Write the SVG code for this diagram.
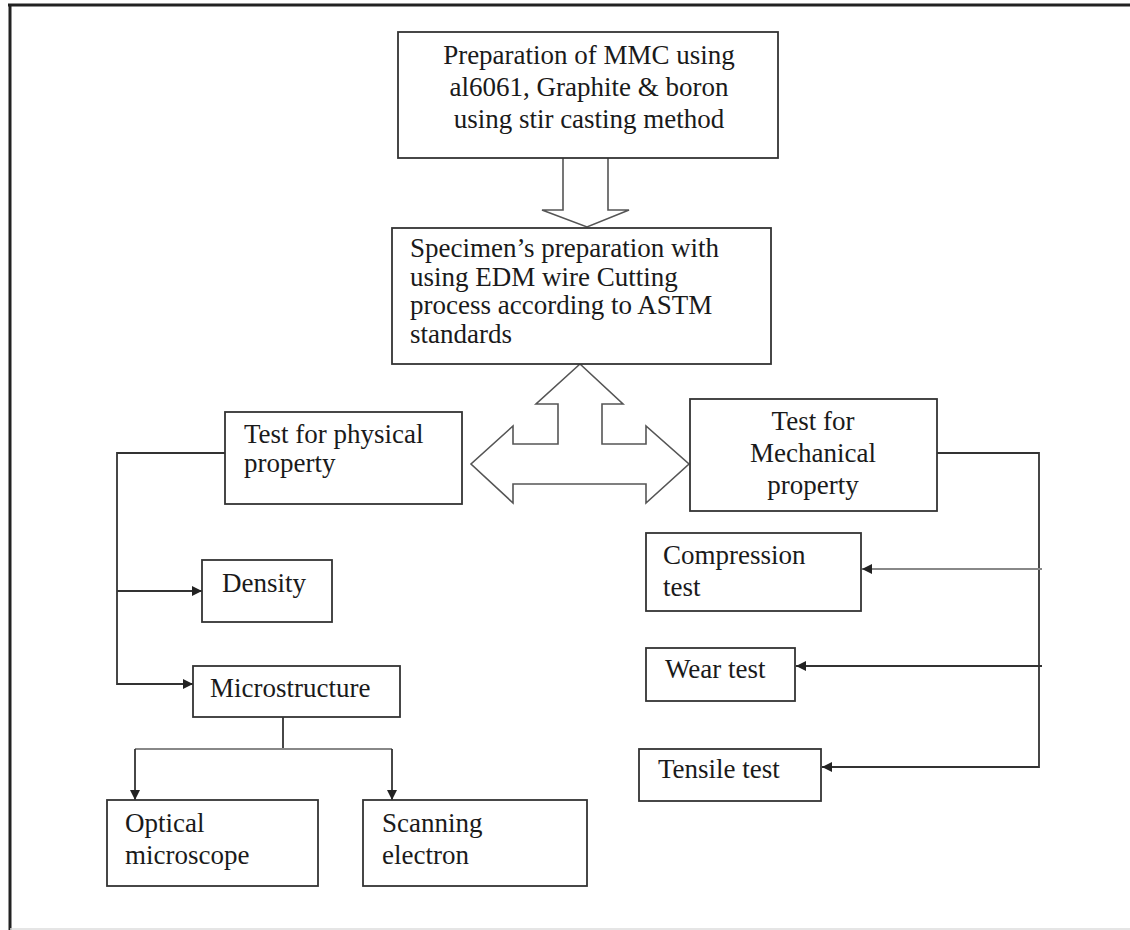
<svg xmlns="http://www.w3.org/2000/svg" width="1130" height="930" viewBox="0 0 1130 930">
<defs>
<style>
.box{fill:#fff;stroke:#333;stroke-width:1.8}
.t{font-family:"Liberation Serif","Times New Roman",serif;font-size:27px;fill:#1a1a1a}
.c{text-anchor:middle}
.ln{fill:none;stroke:#333;stroke-width:1.8}
.lg{fill:none;stroke:#888;stroke-width:1.8}
.big{fill:#fff;stroke:#555;stroke-width:1.6;stroke-linejoin:miter}
</style>
<marker id="ah" viewBox="0 0 10 10" refX="10" refY="5" markerWidth="11" markerHeight="10" markerUnits="userSpaceOnUse" orient="auto">
<path d="M0,0 L10,5 L0,10 z" fill="#222"/>
</marker>
</defs>
<rect width="1130" height="930" fill="#fff"/>
<g id="frame">
<line x1="8" y1="5" x2="1130" y2="5" stroke="#222" stroke-width="3"/>
<line x1="10" y1="4" x2="10" y2="930" stroke="#222" stroke-width="3"/>
<line x1="10" y1="929" x2="1130" y2="929" stroke="#ddd" stroke-width="1.5"/>
</g>
<g id="connectors">
<path class="big" d="M563,158 L563,210 L542,210 L587,227 L629,210 L608,210 L608,158"/>
<path class="big" d="M580,364 L623,404 L602,404 L602,444 L646,444 L646,426 L689,464 L646,503 L646,484 L513,484 L513,503 L471,464 L513,426 L513,444 L558,444 L558,404 L536,404 Z"/>
<path class="ln" d="M225,453 L117,453 L117,684 L193,684" marker-end="url(#ah)"/>
<path class="ln" d="M117,591 L202,591" marker-end="url(#ah)"/>
<path class="ln" d="M283,717 L283,749"/>
<path class="lg" d="M135,749 L392,749"/>
<path class="ln" d="M135,749 L135,800" marker-end="url(#ah)"/>
<path class="ln" d="M392,749 L392,800" marker-end="url(#ah)"/>
<path class="ln" d="M937,453 L1039,453 L1039,767 L822,767" marker-end="url(#ah)"/>
<path class="lg" d="M1042,569 L862,569" marker-end="url(#ah)"/>
<path class="ln" d="M1042,666 L796,666" marker-end="url(#ah)"/>
</g>
<g id="n-prep">
<rect class="box" x="398" y="32" width="380" height="126"/>
<text class="t c" x="589" y="64">Preparation of MMC using</text>
<text class="t c" x="589" y="96">al6061, Graphite &amp; boron</text>
<text class="t c" x="589" y="128">using stir casting method</text>
</g>
<g id="n-specimen">
<rect class="box" x="392" y="228" width="379" height="136"/>
<text class="t" x="410" y="257">Specimen’s preparation with</text>
<text class="t" x="410" y="286">using EDM wire Cutting</text>
<text class="t" x="410" y="314">process according to ASTM</text>
<text class="t" x="410" y="343">standards</text>
</g>
<g id="n-physical">
<rect class="box" x="225" y="412" width="237" height="92"/>
<text class="t" x="244" y="443">Test for physical</text>
<text class="t" x="244" y="472">property</text>
</g>
<g id="n-mechanical">
<rect class="box" x="690" y="399" width="247" height="112"/>
<text class="t c" x="813" y="430">Test for</text>
<text class="t c" x="813" y="462">Mechanical</text>
<text class="t c" x="813" y="494">property</text>
</g>
<g id="n-density">
<rect class="box" x="202" y="560" width="130" height="62"/>
<text class="t" x="222" y="592">Density</text>
</g>
<g id="n-micro">
<rect class="box" x="193" y="666" width="207" height="51"/>
<text class="t" x="210" y="697">Microstructure</text>
</g>
<g id="n-optical">
<rect class="box" x="107" y="800" width="211" height="86"/>
<text class="t" x="125" y="832">Optical</text>
<text class="t" x="125" y="864">microscope</text>
</g>
<g id="n-scanning">
<rect class="box" x="363" y="800" width="224" height="86"/>
<text class="t" x="382" y="832">Scanning</text>
<text class="t" x="382" y="864">electron</text>
</g>
<g id="n-compression">
<rect class="box" x="646" y="533" width="215" height="78"/>
<text class="t" x="663" y="564">Compression</text>
<text class="t" x="663" y="596">test</text>
</g>
<g id="n-wear">
<rect class="box" x="646" y="648" width="149" height="53"/>
<text class="t" x="665" y="678">Wear test</text>
</g>
<g id="n-tensile">
<rect class="box" x="639" y="749" width="182" height="52"/>
<text class="t" x="658" y="778">Tensile test</text>
</g>
</svg>
